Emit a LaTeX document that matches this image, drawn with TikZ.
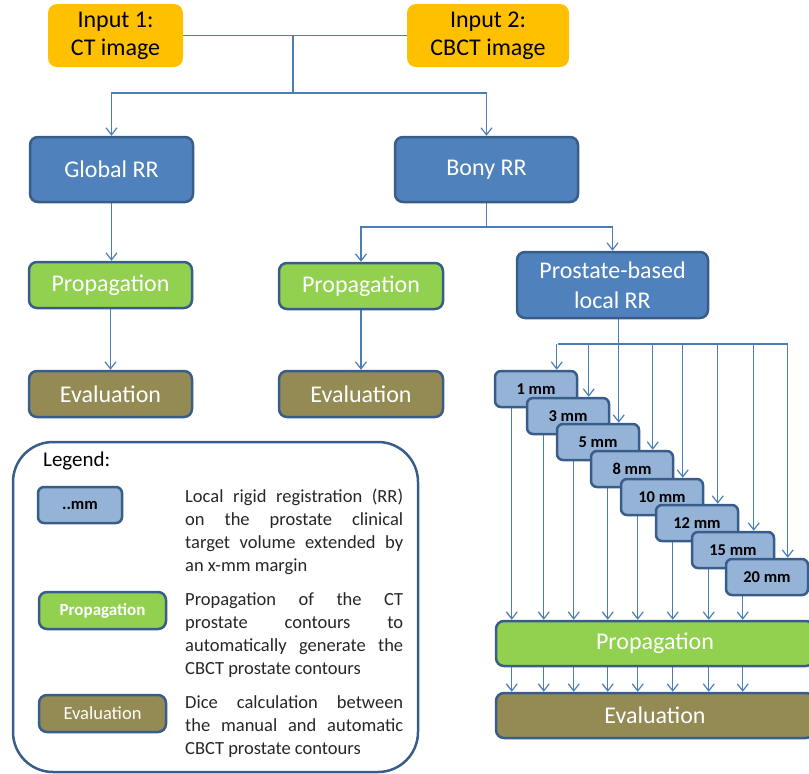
\documentclass[tikz,border=0pt]{standalone}
\usepackage{fontspec}
\setmainfont{Carlito}
\usetikzlibrary{arrows.meta,backgrounds}
\definecolor{inpY}{HTML}{FFC000}
\definecolor{blueF}{HTML}{4F81BD}
\definecolor{blueD}{HTML}{385D8A}
\definecolor{greenF}{HTML}{92D050}
\definecolor{oliveF}{HTML}{948A54}
\definecolor{lightB}{HTML}{95B3D7}
\definecolor{lineB}{HTML}{4A7EBB}
\newcommand\myNoHyph{\hyphenpenalty=10000\relax\exhyphenpenalty=10000\relax}
\tikzset{
  conn/.style={draw=lineB, line width=1.2pt},
  arr/.style={conn, -{Straight Barb[length=7pt,width=11pt]}},
  mainbox/.style={draw=blueD, line width=2.5pt, rounded corners=8pt, inner sep=0pt, align=center, text=white, font=\fontsize{24}{29}\selectfont},
  rrbox/.style={mainbox, fill=blueF},
  propbox/.style={mainbox, fill=greenF},
  evalbox/.style={mainbox, fill=oliveF},
  inbox/.style={fill=inpY, rounded corners=9pt, inner sep=0pt, align=center, text=black, font=\fontsize{24}{28}\selectfont},
  mmbox/.style={draw=blueD, line width=2.5pt, fill=lightB, rounded corners=6pt, minimum width=82pt, minimum height=36pt, inner sep=0pt, font=\fontsize{16.5}{20}\selectfont\bfseries, text=black},
  legtext/.style={anchor=base west, text width=218pt, align=justify, inner sep=0pt, text=black!85, font=\fontsize{18.5}{23}\selectfont\myNoHyph}
}
\begin{document}
\begin{tikzpicture}[x=1pt,y=-1pt]
\useasboundingbox (0,0) rectangle (809,774);
% top nodes
\node[inbox, minimum width=135pt, minimum height=63pt] (in1) at (115.5,35.5) {Input 1:\\CT image};
\node[inbox, minimum width=162pt, minimum height=63pt] (in2) at (488,35.5) {Input 2:\\CBCT image};
\node[rrbox, minimum width=163pt, minimum height=65pt] (glob) at (111.5,169.5) {Global RR};
\node[rrbox, minimum width=183pt, minimum height=65pt] (bony) at (486.5,169.5) {Bony RR};
\node[propbox, minimum width=163pt, minimum height=46pt] (prop1) at (110.5,285) {Propagation};
\node[evalbox, minimum width=163pt, minimum height=46pt] (eval1) at (110.5,394) {Evaluation};
\node[propbox, minimum width=164pt, minimum height=46pt] (prop2) at (361,286) {Propagation};
\node[evalbox, minimum width=164pt, minimum height=46pt] (eval2) at (361,394) {Evaluation};
\node[rrbox, minimum width=191pt, minimum height=66pt, font=\fontsize{24}{30}\selectfont] (pros) at (612.5,285) {Prostate-based\\local RR};
% margin boxes
\node[mmbox] (m1) at (536,389) {1 mm};
\node[mmbox] (m2) at (568,416) {3 mm};
\node[mmbox] (m3) at (598,442) {5 mm};
\node[mmbox] (m4) at (632,469) {8 mm};
\node[mmbox] (m5) at (662,497) {10 mm};
\node[mmbox] (m6) at (697,523) {12 mm};
\node[mmbox] (m7) at (733,550) {15 mm};
\node[mmbox] (m8) at (767,577) {20 mm};
% big boxes
\node[propbox, minimum width=318pt, minimum height=45pt] (bprop) at (655,643.5) {Propagation};
\node[evalbox, minimum width=318pt, minimum height=45pt] (beval) at (655,715.5) {Evaluation};
% connectors
\coordinate (j0) at (293,35.5);
\coordinate (j1) at (293,93);
\coordinate (j2) at (486.5,227);
\coordinate (hz) at (558,344);
\begin{scope}[on background layer]
\draw[conn] (in1.east) -- (in2.west);
\draw[conn] (j0) -- (j1);
\draw[arr] (j1) -| (glob.north);
\draw[arr] (j1) -| (bony.north);
\draw[arr] (glob.south) -- (glob.south |- prop1.north);
\draw[arr] (prop1.south) -- (eval1.north);
\draw[conn] (bony.south) -- (j2);
\draw[arr] (j2) -| (prop2.north);
\draw[arr] (j2) -| (pros.north);
\draw[arr] (prop2.south) -- (eval2.north);
\draw[conn] ([xshift=63pt]m3.north west |- pros.south) -- ([xshift=63pt]m3.north west |- hz);
\draw[conn] (hz) -- ([xshift=63pt]m8.north west |- hz);
\foreach \m in {m1,m2,m3,m4,m5,m6,m7,m8}{
  \draw[arr] ([xshift=63pt]\m.north west |- hz) -- ([xshift=63pt]\m.north west);
  \draw[arr] ([xshift=18pt]\m.south west) -- ([xshift=18pt]\m.south west |- bprop.north);
  \draw[arr] ([xshift=18pt]\m.south west |- bprop.south) -- ([xshift=18pt]\m.south west |- beval.north);
}
\end{scope}
% legend
\node[draw=blueD, line width=2.5pt, rounded corners=40pt, minimum width=405pt, minimum height=330pt, inner sep=0pt] (legend) at (215.5,607) {};
\node[anchor=base west, inner sep=0pt, font=\fontsize{21}{25}\selectfont] (leglab) at (43,466) {Legend:};
\node[mmbox, minimum width=84pt] (lmm) at (80,505) {..mm};
\node[propbox, minimum width=127pt, minimum height=37pt, font=\fontsize{17}{20}\selectfont\bfseries] (lprop) at (102.5,610.5) {Propagation};
\node[evalbox, minimum width=127pt, minimum height=37pt, font=\fontsize{18.5}{22}\selectfont] (leval) at (102.5,713.5) {Evaluation};
\node[legtext] (lt1) at (185,502) {Local rigid registration (RR)\linebreak on the prostate clinical\linebreak target volume extended by\linebreak an x-mm margin};
\node[legtext] (lt2) at (185,605) {Propagation of the CT\linebreak prostate contours to\linebreak automatically generate the\linebreak CBCT prostate contours};
\node[legtext] (lt3) at (185,708) {Dice calculation between\linebreak the manual and automatic\linebreak CBCT prostate contours};
\end{tikzpicture}
\end{document}
